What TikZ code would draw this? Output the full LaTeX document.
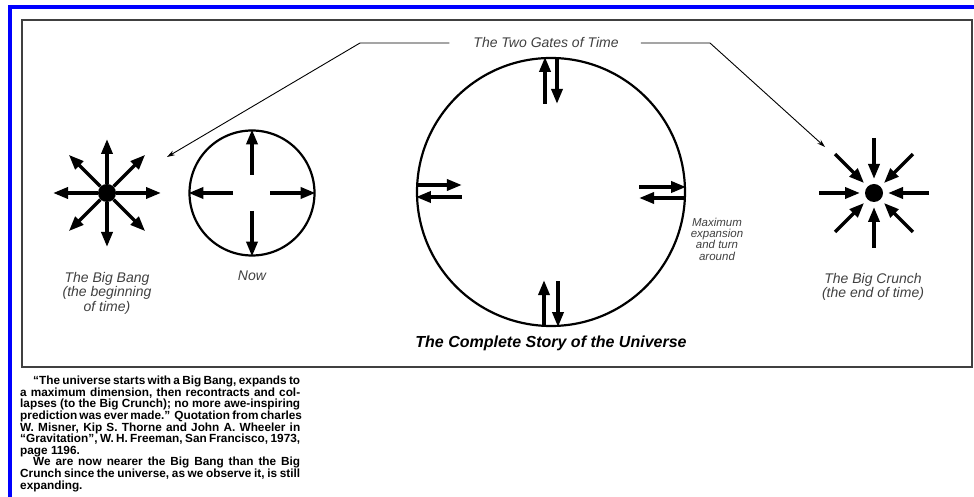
\documentclass[tikz,border=0pt]{standalone}
\usepackage{fontspec}
\setmainfont{Liberation Sans}
\usetikzlibrary{arrows.meta,positioning}

\begin{document}
\begin{tikzpicture}[x=1pt, y=1pt,
  caption/.style={font=\fontsize{14}{14.5}\selectfont\itshape, text=black!75, align=center, inner sep=0pt},
  smallcap/.style={font=\fontsize{11.5}{11.3}\selectfont\itshape, text=black!75, align=center, inner sep=0pt},
  ring/.style={draw, circle, line width=2.2pt, inner sep=0pt},
  core/.style={fill, circle, minimum size=18pt, inner sep=0pt},
  fat/.style={line width=3.5pt, -{Triangle[length=15pt,width=11pt]}},
  leader/.style={line width=0.9pt, -{Stealth[length=8pt,width=5pt]}},
  quote/.style={font=\fontsize{11.8}{11.6}\selectfont\bfseries, align=left, inner sep=0pt}
]
\useasboundingbox (0,0) rectangle (974,497);
\draw[blue, line width=4pt] (10,0) -- (10,490) -- (974,490);
\draw[black!75, line width=1.3pt] (22,130) rectangle (972,477);

% title and the two leaders
\node[caption] (gates) at (546,454) {The Two Gates of Time};
\coordinate (lbend) at (360,454);
\coordinate (rbend) at (710,454);
\coordinate (bangtip) at (167,340);
\coordinate (crunchtip) at (825,350);
\draw[leader] ([xshift=-24]gates.west) -- (lbend) -- (bangtip);
\draw[leader] ([xshift=22]gates.east) -- (rbend) -- (crunchtip);

% big bang
\node[core] (bang) at (107,304) {};
\draw[fat] (bang) -- ++(0:54);
\draw[fat] (bang) -- ++(45:54);
\draw[fat] (bang) -- ++(90:54);
\draw[fat] (bang) -- ++(135:54);
\draw[fat] (bang) -- ++(180:54);
\draw[fat] (bang) -- ++(225:54);
\draw[fat] (bang) -- ++(270:54);
\draw[fat] (bang) -- ++(315:54);

% now
\node[ring, minimum size=125pt] (now) at (252,304) {};
\draw[fat] ([yshift=18]now.center) -- (now.north);
\draw[fat] ([yshift=-18]now.center) -- (now.south);
\draw[fat] ([xshift=-19]now.center) -- (now.west);
\draw[fat] ([xshift=18]now.center) -- (now.east);

% the whole story
\node[ring, minimum size=268pt] (whole) at (551,305) {};
\draw[fat] ([shift={(-6,-47)}]whole.north) -- ([xshift=-6]whole.north);
\draw[fat] ([xshift=6]whole.north) -- ([shift={(6,-47)}]whole.north);
\draw[fat] ([xshift=-7]whole.south) -- ([shift={(-7,47)}]whole.south);
\draw[fat] ([shift={(7,46)}]whole.south) -- ([xshift=7]whole.south);
\draw[fat] ([yshift=7]whole.west) -- ([shift={(46,7)}]whole.west);
\draw[fat] ([shift={(46,-5)}]whole.west) -- ([yshift=-5]whole.west);
\draw[fat] ([shift={(-47,5)}]whole.east) -- ([yshift=5]whole.east);
\draw[fat] ([yshift=-6]whole.east) -- ([shift={(-47,-6)}]whole.east);

% big crunch
\node[core, outer sep=5pt] (crunch) at (874,304) {};
\draw[fat] ([shift={(0:55)}]crunch.center) -- (crunch);
\draw[fat] ([shift={(45:55)}]crunch.center) -- (crunch);
\draw[fat] ([shift={(90:55)}]crunch.center) -- (crunch);
\draw[fat] ([shift={(135:55)}]crunch.center) -- (crunch);
\draw[fat] ([shift={(180:55)}]crunch.center) -- (crunch);
\draw[fat] ([shift={(225:55)}]crunch.center) -- (crunch);
\draw[fat] ([shift={(270:55)}]crunch.center) -- (crunch);
\draw[fat] ([shift={(315:55)}]crunch.center) -- (crunch);

% labels
\node[caption] (banglabel) at (107,204) {The Big Bang\\(the beginning\\of time)};
\node[caption] (nowlabel) at (252,221) {Now};
\node[smallcap] (turnlabel) at (717,258) {Maximum\\expansion\\and turn\\around};
\node[caption] (crunchlabel) at (873,210) {The Big Crunch\\(the end of time)};
\node[font=\fontsize{16}{16}\selectfont\bfseries\itshape, inner sep=0pt] (story) at (551,154) {The Complete Story of the Universe};

% quotation below the box
\node[quote, anchor=north west] (note) at (20,121) {%
\makebox[280pt][s]{\hspace*{13pt}“The universe starts with a Big Bang, expands to}\\
\makebox[280pt][s]{a maximum dimension, then recontracts and col-}\\
\makebox[280pt][s]{lapses (to the Big Crunch); no more awe-inspiring}\\
\makebox[280pt][s]{prediction was ever made.” Quotation from charles}\\
\makebox[280pt][s]{W. Misner, Kip S. Thorne and John A. Wheeler in}\\
\makebox[280pt][s]{“Gravitation”, W. H. Freeman, San Francisco, 1973,}\\
page 1196.\\
\makebox[280pt][s]{\hspace*{13pt}We are now nearer the Big Bang than the Big}\\
\makebox[280pt][s]{Crunch since the universe, as we observe it, is still}\\
expanding.};
\end{tikzpicture}
\end{document}
